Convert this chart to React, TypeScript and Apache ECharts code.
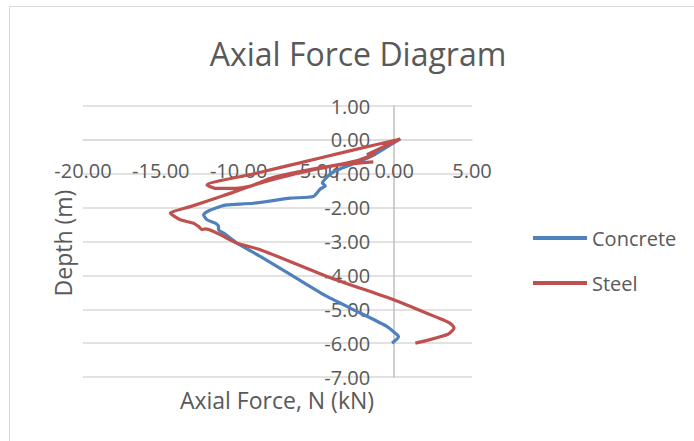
import React, { useEffect, useRef } from "react";
import * as echarts from "echarts";

const xTicks = [-20, -15, -10, -5, 0, 5];
const yTicks = [-7, -6, -5, -4, -3, -2, -1, 0, 1];

const seriesNames = ["Concrete", "Steel"];

const concreteForce = [
  0.4, -1.54, -2.82, -3.89, -4.24, -4.62, -4.43, -4.75, -5.2, -6.68, -9.04, -10.75, -11.18,
  -12.03, -12.25, -12.03, -11.5, -11.29, -11.29, -10.96, -10.1, -8.61, -6.47, -4.32, -2.18,
  -0.46, 0.18, 0.28, -0.14,
];
const concreteDepth = [
  0.04, -0.5, -0.74, -0.94, -1.06, -1.27, -1.36, -1.45, -1.67, -1.72, -1.87, -1.92, -1.97,
  -2.12, -2.21, -2.36, -2.46, -2.56, -2.65, -2.75, -3.05, -3.44, -4.03, -4.62, -5.11,
  -5.51, -5.75, -5.81, -6.0,
];

const steelForce = [
  -1.34, -3.5, -6.0, -8.0, -8.7, -9.3, -10.2, -11.5, -12.03, -9.0, -6.0, -3.0, 0.35,
  -1.75, -1.2, -2.3, -4.2, -6.5, -8.8, -11.0, -13.1, -14.39, -13.75, -12.89, -12.57,
  -12.35, -12.14, -10.1, -8.61, -4.32, -0.04, 1.2, 2.75, 3.55, 3.85, 3.45, 2.11, 1.36,
];
const steelDepth = [
  -0.65, -0.74, -0.93, -1.14, -1.27, -1.37, -1.43, -1.43, -1.33, -1.0, -0.67, -0.34, 0.02,
  -0.44, -0.42, -0.6, -0.79, -1.02, -1.3, -1.65, -1.97, -2.16, -2.36, -2.46, -2.56,
  -2.65, -2.63, -3.05, -3.24, -4.03, -4.72, -4.95, -5.24, -5.4, -5.55, -5.74, -5.92, -6.0,
];

const colors = ["#4F81BD", "#C0504D"];
const FONT = "'Open Sans', 'Noto Sans', sans-serif";
const TXT = "#595959";

const GRID = { left: 83, top: 106, width: 389, height: 271 };

export default function App() {
  const ref = useRef<HTMLDivElement>(null);
  useEffect(() => {
    document.body.style.margin = "0";
    if (!ref.current) return;
    const chart = echarts.init(ref.current, undefined, { renderer: "svg" });
    const concreteData = concreteForce.map((f, i) => [f, concreteDepth[i]]);
    const steelData = steelForce.map((f, i) => [f, steelDepth[i]]);
    const xMin = xTicks[0];
    const xMax = xTicks[xTicks.length - 1];
    const yMin = yTicks[0];
    const yMax = yTicks[yTicks.length - 1];
    // place each axis where the other axis's value is zero
    const yAxisOffset = -((0 - xMin) / (xMax - xMin)) * GRID.width;
    const xAxisOffset = -((0 - yMin) / (yMax - yMin)) * GRID.height;
    chart.setOption({
      animation: false,
      backgroundColor: "#ffffff",
      textStyle: { fontFamily: FONT },
      grid: { ...GRID, containLabel: false },
      xAxis: {
        type: "value",
        min: xMin,
        max: xMax,
        interval: 5,
        position: "bottom",
        offset: xAxisOffset,
        axisLine: { show: true, onZero: false, lineStyle: { color: "#d9d9d9", width: 1.5 } },
        axisTick: { show: false },
        splitLine: { show: false },
        axisLabel: {
          formatter: (v: number) => v.toFixed(2),
          fontSize: 20,
          color: TXT,
          fontFamily: FONT,
          margin: 21,
        },
      },
      yAxis: {
        type: "value",
        min: yMin,
        max: yMax,
        interval: 1,
        position: "left",
        offset: yAxisOffset,
        axisLine: { show: true, onZero: false, lineStyle: { color: "#bfbfbf", width: 1.5 } },
        axisTick: { show: false },
        splitLine: { show: true, lineStyle: { color: "#d9d9d9", width: 1.5 } },
        axisLabel: {
          formatter: (v: number) => v.toFixed(2),
          fontSize: 20,
          color: TXT,
          fontFamily: FONT,
          margin: 24,
        },
      },
      legend: {
        data: seriesNames,
        orient: "vertical",
        left: 533,
        top: 228,
        padding: 0,
        icon: "rect",
        itemWidth: 54,
        itemHeight: 4,
        itemGap: 25,
        textStyle: { fontSize: 20, color: TXT, fontFamily: FONT },
      },
      series: [
        {
          name: seriesNames[0],
          type: "line",
          data: concreteData,
          showSymbol: false,
          symbol: "none",
          smooth: 0.2,
          lineStyle: { width: 3.2, color: colors[0] },
          itemStyle: { color: colors[0] },
        },
        {
          name: seriesNames[1],
          type: "line",
          data: steelData,
          showSymbol: false,
          symbol: "none",
          smooth: 0.2,
          lineStyle: { width: 3.2, color: colors[1] },
          itemStyle: { color: colors[1] },
        },
      ],
      graphic: [
        {
          type: "rect",
          shape: { x: 9.5, y: 6.5, width: 690, height: 470 },
          style: { fill: "none", stroke: "#d9d9d9", lineWidth: 1 },
          silent: true,
        },
        {
          type: "text",
          x: 358,
          y: 53,
          style: {
            text: "Axial Force Diagram",
            fontSize: 32,
            fontFamily: FONT,
            fill: TXT,
            align: "center",
            verticalAlign: "middle",
          },
        },
        {
          type: "text",
          x: 63,
          y: 243,
          rotation: Math.PI / 2,
          style: {
            text: "Depth (m)",
            fontSize: 23,
            fontFamily: FONT,
            fill: TXT,
            align: "center",
            verticalAlign: "middle",
          },
        },
        {
          type: "text",
          x: 277,
          y: 400,
          style: {
            text: "Axial Force, N (kN)",
            fontSize: 23,
            fontFamily: FONT,
            fill: TXT,
            align: "center",
            verticalAlign: "middle",
          },
        },
      ],
    });
    return () => chart.dispose();
  }, []);
  return (
    <div
      ref={ref}
      style={{ position: "fixed", left: 0, top: 0, width: 694, height: 441 }}
    />
  );
}
